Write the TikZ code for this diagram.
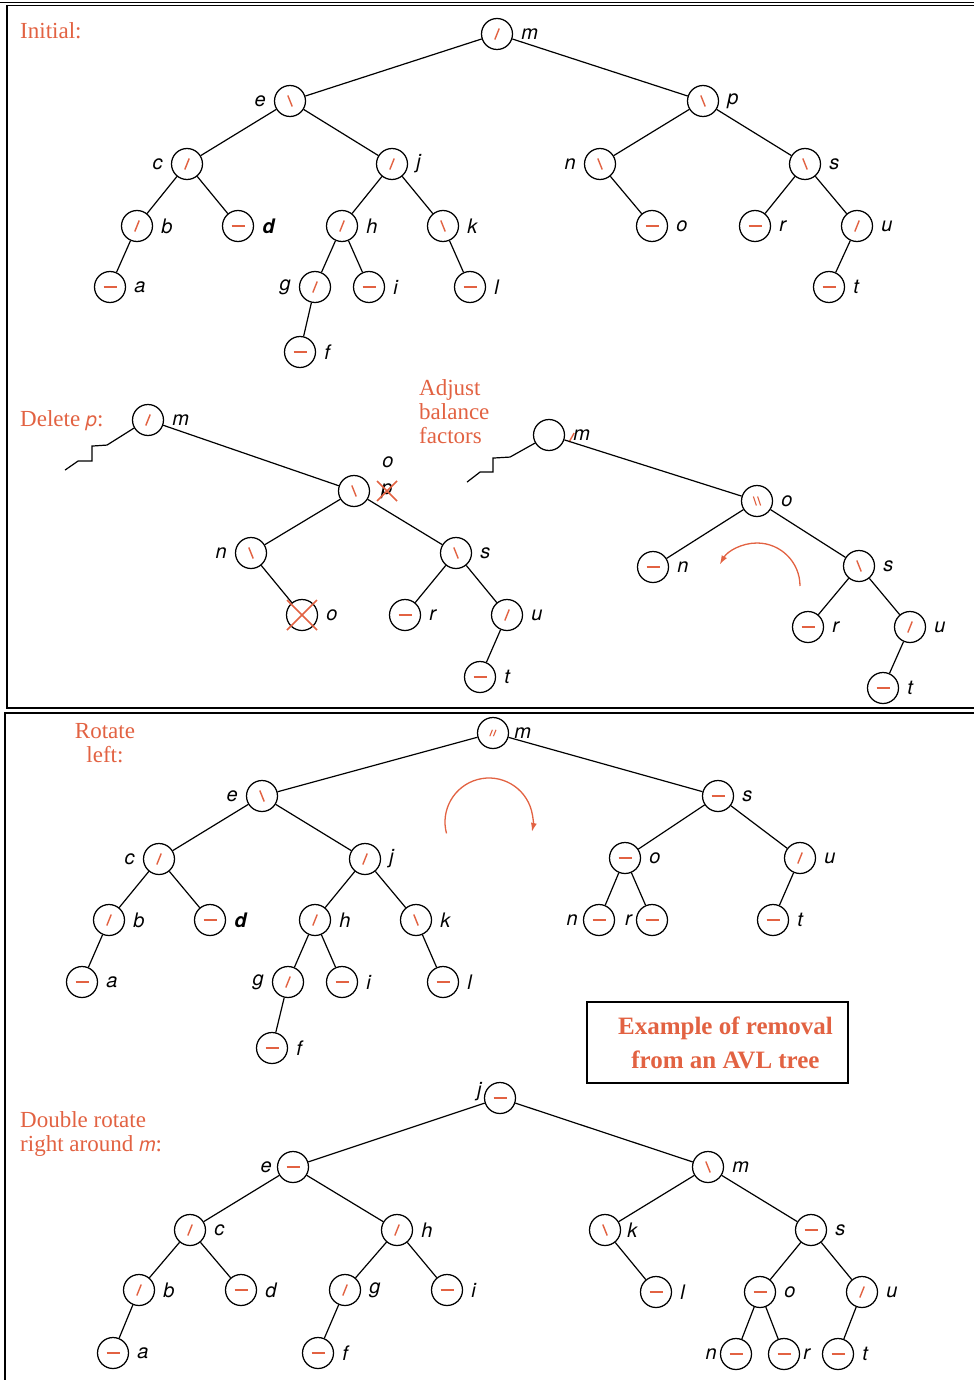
\documentclass[tikz,border=0pt]{standalone}
\usepackage{fontspec}
\setsansfont{TeX Gyre Heros}
\newfontfamily\notefont{Liberation Serif}
\usetikzlibrary{arrows.meta}
\definecolor{avlred}{RGB}{226,98,66}
\tikzset{
  avl/.style={circle, draw, line width=1.25pt, fill=white, minimum size=31pt, inner sep=0pt},
  bal/.style={draw=avlred, line width=1.4pt},
  lh/.style={avl, path picture={\draw[bal] ([shift={(-2.2pt,-5.5pt)}]path picture bounding box.center) -- ++(4.4pt,11pt);}},
  rh/.style={avl, path picture={\draw[bal] ([shift={(-2.2pt,5.5pt)}]path picture bounding box.center) -- ++(4.4pt,-11pt);}},
  ev/.style={avl, path picture={\draw[bal, line width=2.2pt] ([xshift=-6.5pt]path picture bounding box.center) -- ++(13pt,0pt);}},
  lh2/.style={avl, path picture={
    \draw[bal, line width=1.1pt] ([shift={(-3.2pt,-3.2pt)}]path picture bounding box.center) -- ++(2.6pt,6.4pt);
    \draw[bal, line width=1.1pt] ([shift={(0.4pt,-3.2pt)}]path picture bounding box.center) -- ++(2.6pt,6.4pt);}},
  rh2/.style={avl, path picture={
    \draw[bal, line width=1.1pt] ([shift={(-3.6pt,4.5pt)}]path picture bounding box.center) -- ++(3pt,-9pt);
    \draw[bal, line width=1.1pt] ([shift={(0.6pt,4.5pt)}]path picture bounding box.center) -- ++(3pt,-9pt);}},
  lab/.style={font=\fontsize{20}{22}\selectfont\sffamily\itshape, inner sep=0pt},
  rlab/.style={lab, xshift=8pt},
  llab/.style={lab, xshift=-8pt},
  note/.style={text=avlred, font=\notefont\fontsize{23}{24}\selectfont, inner sep=0pt, align=left},
  edge/.style={line width=1.2pt},
  frame/.style={line width=1.8pt},
  cross/.style={draw=avlred, line width=1.5pt},
  turn/.style={draw=avlred, line width=1.3pt, -{Latex[length=9pt,width=6pt]}}
}

\begin{document}
\begin{tikzpicture}[x=1pt,y=-1pt]
  \useasboundingbox (0,0) rectangle (974,1380);
  \draw[frame] (0,2.5) -- (974,2.5);
  \draw[frame] (974,5.5) -- (6.8,5.5) -- (6.8,708) -- (974,708);
  \draw[frame] (974,713) -- (5,713) -- (5,1380);

  % initial tree
  \node[note, anchor=west] (initial) at (20,31) {Initial:};
  \node[lh, label={[rlab]right:m}] (Am) at (497,34) {};
  \node[rh, label={[llab]left:e}] (Ae) at (290,101) {};
  \node[rh, label={[rlab]right:p}] (Ap) at (703,101) {};
  \node[lh, label={[llab]left:c}] (Ac) at (187,164) {};
  \node[lh, label={[rlab]right:j}] (Aj) at (392,164) {};
  \node[rh, label={[llab]left:n}] (An) at (600,164) {};
  \node[rh, label={[rlab]right:s}] (As) at (805,164) {};
  \node[lh, label={[rlab]right:b}] (Ab) at (137,226) {};
  \node[ev, label={[rlab]right:{\bfseries d}}] (Ad) at (238,226) {};
  \node[lh, label={[rlab]right:h}] (Ah) at (342,226) {};
  \node[rh, label={[rlab]right:k}] (Ak) at (443,226) {};
  \node[ev, label={[rlab]right:o}] (Ao) at (652,226) {};
  \node[ev, label={[rlab]right:r}] (Ar) at (755,226) {};
  \node[lh, label={[rlab]right:u}] (Au) at (857,226) {};
  \node[ev, label={[rlab]right:a}] (Aa) at (110,287) {};
  \node[lh, label={[llab]left:g}] (Ag) at (315,287) {};
  \node[ev, label={[rlab]right:i}] (Ai) at (369,287) {};
  \node[ev, label={[rlab]right:l}] (Al) at (470,287) {};
  \node[ev, label={[rlab]right:t}] (At) at (829,287) {};
  \node[ev, label={[rlab]right:f}] (Af) at (300,352) {};

  \draw[edge] (Am) -- (Ae);
  \draw[edge] (Am) -- (Ap);
  \draw[edge] (Ae) -- (Ac);
  \draw[edge] (Ae) -- (Aj);
  \draw[edge] (Ac) -- (Ab);
  \draw[edge] (Ac) -- (Ad);
  \draw[edge] (Ab) -- (Aa);
  \draw[edge] (Aj) -- (Ah);
  \draw[edge] (Aj) -- (Ak);
  \draw[edge] (Ah) -- (Ag);
  \draw[edge] (Ah) -- (Ai);
  \draw[edge] (Ag) -- (Af);
  \draw[edge] (Ak) -- (Al);
  \draw[edge] (Ap) -- (An);
  \draw[edge] (Ap) -- (As);
  \draw[edge] (An) -- (Ao);
  \draw[edge] (As) -- (Ar);
  \draw[edge] (As) -- (Au);
  \draw[edge] (Au) -- (At);

  % delete p
  \node[note, anchor=west] (delete) at (20,421) {Delete \textsf{\itshape\fontsize{20}{22}\selectfont p}:};
  \node[lh, label={[rlab]right:m}] (Bm) at (148,420) {};
  \node[rh] (Bo) at (354,491) {};
  \node[lab] (Bolab) at (388,462) {o};
  \node[lab] (Bp) at (387,491) {p};
  \node[rh, label={[llab]left:n}] (Bn) at (251,553) {};
  \node[rh, label={[rlab]right:s}] (Bs) at (456,553) {};
  \node[avl, label={[rlab]right:o}] (Bx) at (302,615) {};
  \node[ev, label={[rlab]right:r}] (Br) at (405,615) {};
  \node[lh, label={[rlab]right:u}] (Bu) at (507,615) {};
  \node[ev, label={[rlab]right:t}] (Bt) at (480,677) {};

  \draw[edge] (Bm.210) -- ++(-27,17) -- ++(-15,1) -- ++(0,15) -- ++(-14,0) -- ++(-13,9);
  \draw[edge] (Bm) -- (Bo);
  \draw[edge] (Bo) -- (Bn);
  \draw[edge] (Bo) -- (Bs);
  \draw[edge] (Bn) -- (Bx);
  \draw[edge] (Bs) -- (Br);
  \draw[edge] (Bs) -- (Bu);
  \draw[edge] (Bu) -- (Bt);
  \draw[cross] ([shift={(-10pt,10pt)}]Bp.center) -- ([shift={(10pt,-10pt)}]Bp.center);
  \draw[cross] ([shift={(-10pt,-10pt)}]Bp.center) -- ([shift={(10pt,10pt)}]Bp.center);
  \draw[cross] ([shift={(-15pt,15pt)}]Bx.center) -- ([shift={(15pt,-15pt)}]Bx.center);
  \draw[cross] ([shift={(-15pt,-15pt)}]Bx.center) -- ([shift={(15pt,15pt)}]Bx.center);

  % adjust balance factors
  \node[note, anchor=west] (adjust) at (419,412) {Adjust\\balance\\factors};
  \node[avl, label={[rlab]right:m}] (Cm) at (549,435) {};
  \node[rh2, label={[rlab]right:o}] (Co) at (757,501) {};
  \node[ev, label={[rlab]right:n}] (Cn) at (653,567) {};
  \node[rh, label={[rlab]right:s}] (Cs) at (859,566) {};
  \node[ev, label={[rlab]right:r}] (Cr) at (808,627) {};
  \node[lh, label={[rlab]right:u}] (Cu) at (910,627) {};
  \node[ev, label={[rlab]right:t}] (Ct) at (883,688) {};
  \coordinate (Cturn) at (757,586);

  \draw[edge] (Cm.210) -- ++(-25,14) -- ++(-17,1) -- ++(0,14) -- ++(-13,0) -- ++(-13,10);
  \draw[bal] ([shift={(4pt,-7pt)}]Cm.east) -- ++(5pt,9pt);
  \draw[edge] (Cm) -- (Co);
  \draw[edge] (Co) -- (Cn);
  \draw[edge] (Co) -- (Cs);
  \draw[edge] (Cs) -- (Cr);
  \draw[edge] (Cs) -- (Cu);
  \draw[edge] (Cu) -- (Ct);
  \draw[turn] ([xshift=43pt]Cturn) arc[start angle=0, end angle=150, radius=43pt];

  % rotate left
  \node[note, align=center] (rotate) at (105,743) {Rotate\\left:};
  \node[lh2, label={[lab, xshift=5pt]right:m}] (Dm) at (493,733) {};
  \node[rh, label={[llab]left:e}] (De) at (262,796) {};
  \node[ev, label={[rlab]right:s}] (Ds) at (718,796) {};
  \node[lh, label={[llab]left:c}] (Dc) at (159,859) {};
  \node[lh, label={[rlab]right:j}] (Dj) at (365,859) {};
  \node[ev, label={[rlab]right:o}] (Do) at (625,858) {};
  \node[lh, label={[rlab]right:u}] (Du) at (800,858) {};
  \node[lh, label={[rlab]right:b}] (Db) at (109,920) {};
  \node[ev, label={[rlab]right:{\bfseries d}}] (Dd) at (210,920) {};
  \node[lh, label={[rlab]right:h}] (Dh) at (315,920) {};
  \node[rh, label={[rlab]right:k}] (Dk) at (416,920) {};
  \node[ev, label={[lab, xshift=-5pt]left:n}] (Dn) at (599,920) {};
  \node[ev, label={[lab, xshift=-4pt]left:r}] (Dr) at (652,920) {};
  \node[ev, label={[rlab]right:t}] (Dt) at (773,920) {};
  \node[ev, label={[rlab]right:a}] (Da) at (82,982) {};
  \node[lh, label={[llab]left:g}] (Dg) at (288,982) {};
  \node[ev, label={[rlab]right:i}] (Di) at (342,982) {};
  \node[ev, label={[rlab]right:l}] (Dl) at (443,982) {};
  \node[ev, label={[rlab]right:f}] (Df) at (272,1048) {};
  \coordinate (Dturn) at (489,822);

  \draw[edge] (Dm) -- (De);
  \draw[edge] (Dm) -- (Ds);
  \draw[edge] (De) -- (Dc);
  \draw[edge] (De) -- (Dj);
  \draw[edge] (Dc) -- (Db);
  \draw[edge] (Dc) -- (Dd);
  \draw[edge] (Db) -- (Da);
  \draw[edge] (Dj) -- (Dh);
  \draw[edge] (Dj) -- (Dk);
  \draw[edge] (Dh) -- (Dg);
  \draw[edge] (Dh) -- (Di);
  \draw[edge] (Dg) -- (Df);
  \draw[edge] (Dk) -- (Dl);
  \draw[edge] (Ds) -- (Do);
  \draw[edge] (Ds) -- (Du);
  \draw[edge] (Do) -- (Dn);
  \draw[edge] (Do) -- (Dr);
  \draw[edge] (Du) -- (Dt);
  \draw[turn] ([shift={(195:44pt)}]Dturn) arc[start angle=195, end angle=-13, radius=44pt];

  \node[draw, line width=1.2pt, minimum width=261pt, minimum height=81pt, align=center,
    text=avlred, font=\notefont\fontsize{25}{34}\selectfont\bfseries] (caption) at (717.5,1042.5)
    {\hspace*{16pt}Example of removal\\\hspace*{16pt}from an AVL tree};

  % double rotate right around m
  \node[note, anchor=west] (double) at (20,1134) {Double rotate\\right around \textsf{\itshape\fontsize{20}{22}\selectfont m}:};
  \node[ev, label={[lab, xshift=-2pt, yshift=6pt]left:j}] (Ej) at (500,1098) {};
  \node[ev, label={[lab, xshift=-5pt]left:e}] (Ee) at (293,1167) {};
  \node[rh, label={[rlab]right:m}] (Em) at (708,1167) {};
  \node[lh, label={[rlab]right:c}] (Ec) at (190,1230) {};
  \node[lh, label={[rlab]right:h}] (Eh) at (397,1230) {};
  \node[rh, label={[lab, xshift=6pt]right:k}] (Ek) at (605,1230) {};
  \node[ev, label={[rlab]right:s}] (Es) at (811,1230) {};
  \node[lh, label={[rlab]right:b}] (Eb) at (139,1290) {};
  \node[ev, label={[rlab]right:d}] (Ed) at (241,1290) {};
  \node[lh, label={[rlab]right:g}] (Eg) at (345,1290) {};
  \node[ev, label={[rlab]right:i}] (Ei) at (447,1290) {};
  \node[ev, label={[rlab]right:l}] (El) at (656,1292) {};
  \node[ev, label={[rlab]right:o}] (Eo) at (760,1292) {};
  \node[lh, label={[rlab]right:u}] (Eu) at (862,1292) {};
  \node[ev, label={[rlab]right:a}] (Ea) at (113,1353) {};
  \node[ev, label={[rlab]right:f}] (Ef) at (318,1353) {};
  \node[ev, label={[lab, xshift=-3pt]left:n}] (En) at (736,1354) {};
  \node[ev, label={[lab, xshift=3pt]right:r}] (Er) at (784,1354) {};
  \node[ev, label={[rlab]right:t}] (Et) at (838,1354) {};

  \draw[edge] (Ej) -- (Ee);
  \draw[edge] (Ej) -- (Em);
  \draw[edge] (Ee) -- (Ec);
  \draw[edge] (Ee) -- (Eh);
  \draw[edge] (Ec) -- (Eb);
  \draw[edge] (Ec) -- (Ed);
  \draw[edge] (Eb) -- (Ea);
  \draw[edge] (Eh) -- (Eg);
  \draw[edge] (Eh) -- (Ei);
  \draw[edge] (Eg) -- (Ef);
  \draw[edge] (Em) -- (Ek);
  \draw[edge] (Em) -- (Es);
  \draw[edge] (Ek) -- (El);
  \draw[edge] (Es) -- (Eo);
  \draw[edge] (Es) -- (Eu);
  \draw[edge] (Eo) -- (En);
  \draw[edge] (Eo) -- (Er);
  \draw[edge] (Eu) -- (Et);
\end{tikzpicture}
\end{document}
